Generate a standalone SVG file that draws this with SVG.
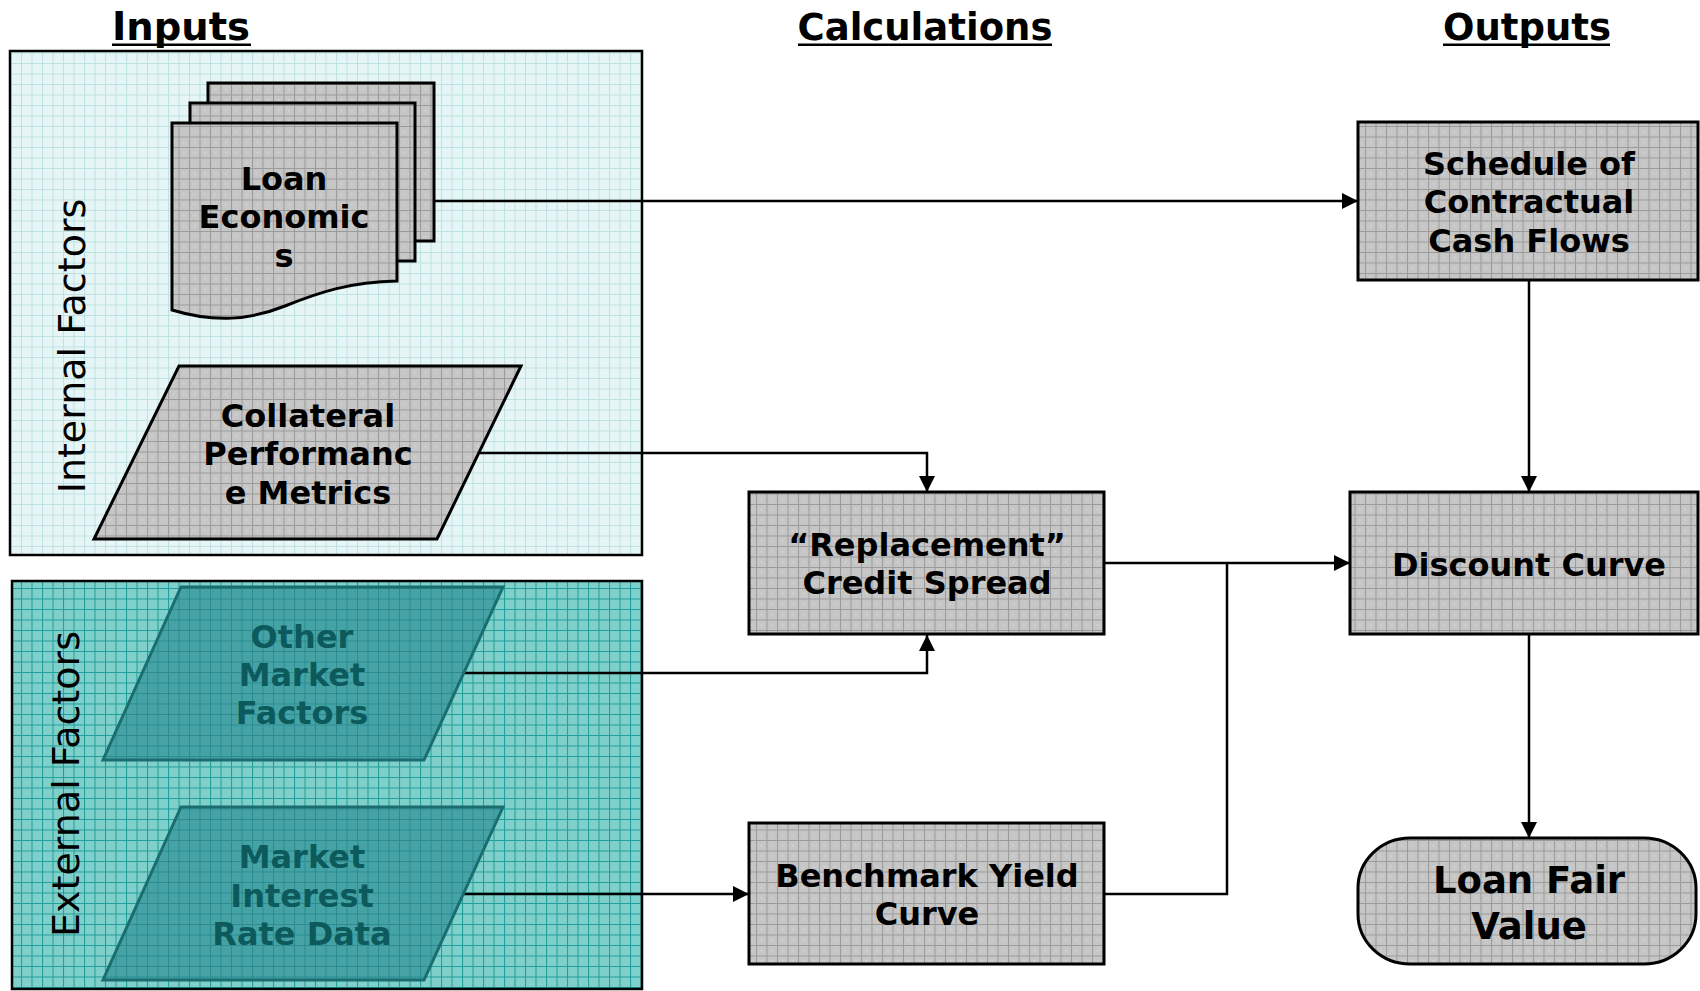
<svg xmlns="http://www.w3.org/2000/svg" width="1700" height="991" viewBox="0 0 1700 991">
  <defs>
    <!-- grid fills -->
    <pattern id="gridGray" patternUnits="userSpaceOnUse" width="10.5" height="10.5">
      <rect width="10.5" height="10.5" fill="#c6c6c6"/>
      <path d="M0 0.5H10.5M0.5 0V10.5" stroke="#9a9a9a" stroke-width="1"/>
      <circle cx="5.5" cy="5.5" r="0.6" fill="#ececec"/>
    </pattern>
    <pattern id="gridLight" patternUnits="userSpaceOnUse" width="10.5" height="10.5">
      <rect width="10.5" height="10.5" fill="#e6f5f5"/>
      <path d="M0 0.5H10.5M0.5 0V10.5" stroke="#bfe2e2" stroke-width="1"/>
    </pattern>
    <pattern id="gridTeal" patternUnits="userSpaceOnUse" width="10.5" height="10.5">
      <rect width="10.5" height="10.5" fill="#7fcfca"/>
      <path d="M0 0.5H10.5M0.5 0V10.5" stroke="#1f9e99" stroke-width="1"/>
    </pattern>
    <pattern id="gridDeepTeal" patternUnits="userSpaceOnUse" width="10.5" height="10.5">
      <rect width="10.5" height="10.5" fill="#45a3a6"/>
      <path d="M0 0.5H10.5M0.5 0V10.5" stroke="#2b8b8f" stroke-width="1"/>
    </pattern>
    <marker id="arrow" viewBox="0 0 16 16" refX="16" refY="8" markerWidth="16" markerHeight="16" markerUnits="userSpaceOnUse" orient="auto">
      <path d="M0 0L16 8L0 16Z" fill="#000"/>
    </marker>
  </defs>
  <style>
    .title { font-family: "DejaVu Sans", Verdana, sans-serif; font-weight: bold; font-size: 37px; fill: #000; text-anchor: middle; }
    .side { font-family: "DejaVu Sans", Verdana, sans-serif; font-size: 38px; fill: #000; text-anchor: middle; }
    .lbl { font-family: "DejaVu Sans", Verdana, sans-serif; font-weight: bold; font-size: 32px; fill: #000; text-anchor: middle; }
    .lbl-teal { font-family: "DejaVu Sans", Verdana, sans-serif; font-weight: bold; font-size: 32px; fill: #0c5a5b; text-anchor: middle; }
    .big { font-family: "DejaVu Sans", Verdana, sans-serif; font-weight: bold; font-size: 37px; fill: #000; text-anchor: middle; }
    .shape { fill: url(#gridGray); stroke: #000; stroke-width: 3; }
    .shape-teal { fill: url(#gridDeepTeal); stroke: #1a6e70; stroke-width: 3; }
    .wire { fill: none; stroke: #000; stroke-width: 2.5; }
    .wire-arrow { fill: none; stroke: #000; stroke-width: 2.5; marker-end: url(#arrow); }
  </style>

  <rect width="1700" height="991" fill="#fff"/>

  <!-- column headings -->
  <g id="headings">
    <text class="title" x="181" y="40" style="font-size:38.5px">Inputs</text>
    <rect x="112" y="43.5" width="139" height="2.5" fill="#000"/>
    <text class="title" x="925" y="40">Calculations</text>
    <rect x="798" y="43.5" width="254" height="2.5" fill="#000"/>
    <text class="title" x="1527" y="40">Outputs</text>
    <rect x="1443" y="43.5" width="167" height="2.5" fill="#000"/>
  </g>

  <!-- input groupings -->
  <g id="internal-factors">
    <rect x="10" y="51" width="632" height="504" fill="url(#gridLight)" stroke="#000" stroke-width="2.5"/>
    <text class="side" transform="translate(85 346) rotate(-90)">Internal Factors</text>
  </g>
  <g id="external-factors">
    <rect x="12" y="581" width="630" height="408" fill="url(#gridTeal)" stroke="#000" stroke-width="2.5"/>
    <text class="side" transform="translate(79 784) rotate(-90)">External Factors</text>
  </g>

  <!-- connectors -->
  <g id="connectors">
    <path class="wire-arrow" d="M434 201H1358"/>
    <path class="wire-arrow" d="M479 453H927V492"/>
    <path class="wire-arrow" d="M464 673H927V635"/>
    <path class="wire-arrow" d="M463 894H749"/>
    <path class="wire-arrow" d="M1104 563H1350"/>
    <path class="wire" d="M1104 894H1227V563"/>
    <path class="wire-arrow" d="M1529 280V492"/>
    <path class="wire-arrow" d="M1529 634V838"/>
  </g>

  <!-- nodes -->
  <g id="loan-economics">
    <rect class="shape" x="208" y="83" width="226" height="158"/>
    <rect class="shape" x="190" y="103" width="225" height="158"/>
    <path class="shape" d="M172 123H397V281C350 282 320 292 285 306C250 320 215 323 172 310Z"/>
    <text class="lbl" x="284" y="190">Loan</text>
    <text class="lbl" x="284" y="228">Economic</text>
    <text class="lbl" x="284" y="267">s</text>
  </g>

  <g id="collateral-metrics">
    <path class="shape" d="M179 366H521L437 539H94Z"/>
    <text class="lbl" x="308" y="427">Collateral</text>
    <text class="lbl" x="308" y="465">Performanc</text>
    <text class="lbl" x="308" y="504">e Metrics</text>
  </g>

  <g id="other-market-factors">
    <path class="shape-teal" d="M181 587H503L424 760H103Z"/>
    <text class="lbl-teal" x="302" y="648">Other</text>
    <text class="lbl-teal" x="302" y="686">Market</text>
    <text class="lbl-teal" x="302" y="724">Factors</text>
  </g>

  <g id="market-rate-data">
    <path class="shape-teal" d="M181 807H503L424 980H103Z"/>
    <text class="lbl-teal" x="302" y="868">Market</text>
    <text class="lbl-teal" x="302" y="907">Interest</text>
    <text class="lbl-teal" x="302" y="945">Rate Data</text>
  </g>

  <g id="replacement-spread">
    <rect class="shape" x="749" y="492" width="355" height="142"/>
    <text class="lbl" x="927" y="556">“Replacement”</text>
    <text class="lbl" x="927" y="594">Credit Spread</text>
  </g>

  <g id="benchmark-curve">
    <rect class="shape" x="749" y="823" width="355" height="141"/>
    <text class="lbl" x="927" y="887">Benchmark Yield</text>
    <text class="lbl" x="927" y="925">Curve</text>
  </g>

  <g id="cash-flows">
    <rect class="shape" x="1358" y="122" width="340" height="158"/>
    <text class="lbl" x="1529" y="175">Schedule of</text>
    <text class="lbl" x="1529" y="213">Contractual</text>
    <text class="lbl" x="1529" y="252">Cash Flows</text>
  </g>

  <g id="discount-curve">
    <rect class="shape" x="1350" y="492" width="348" height="142"/>
    <text class="lbl" x="1529" y="576">Discount Curve</text>
  </g>

  <g id="loan-fair-value">
    <rect class="shape" x="1358" y="838" width="338" height="126" rx="52" ry="50"/>
    <text class="big" x="1529" y="893">Loan Fair</text>
    <text class="big" x="1529" y="939">Value</text>
  </g>
</svg>
